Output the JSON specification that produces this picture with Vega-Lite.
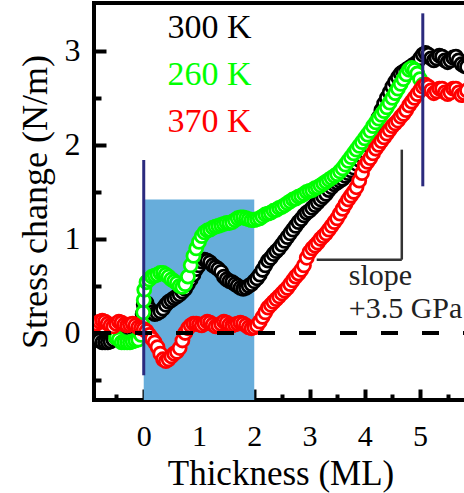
{
"$schema": "https://vega.github.io/schema/vega-lite/v6.json",
"autosize": {"type": "none"},
"width": 373, "height": 397,
"padding": {"left": 94, "top": 3, "right": 0, "bottom": 93},
"background": "white",
"config": {"view": {"stroke": "black", "strokeWidth": 4}, "font": "Liberation Serif"},
"datasets": {
"pts": [
{"s":"b","x":-0.9,"y":-0.04},{"s":"b","x":-0.85,"y":-0.06},{"s":"b","x":-0.8,"y":-0.08},{"s":"b","x":-0.75,"y":-0.1},{"s":"b","x":-0.7,"y":-0.1},{"s":"b","x":-0.65,"y":-0.1},{"s":"b","x":-0.6,"y":-0.09},{"s":"b","x":-0.55,"y":-0.07},{"s":"b","x":-0.5,"y":-0.05},{"s":"b","x":-0.45,"y":-0.04},{"s":"b","x":-0.4,"y":-0.03},{"s":"b","x":-0.35,"y":-0.02},{"s":"b","x":-0.3,"y":0},{"s":"b","x":-0.25,"y":0},{"s":"b","x":-0.2,"y":0.01},{"s":"b","x":-0.15,"y":0.02},{"s":"b","x":-0.1,"y":0.03},{"s":"b","x":-0.05,"y":0.1},{"s":"b","x":-0.02,"y":0.2},{"s":"b","x":0,"y":0.3},{"s":"b","x":0.05,"y":0.32},{"s":"b","x":0.1,"y":0.26},{"s":"b","x":0.15,"y":0.22},{"s":"b","x":0.2,"y":0.2},{"s":"b","x":0.25,"y":0.21},{"s":"b","x":0.3,"y":0.23},{"s":"b","x":0.35,"y":0.26},{"s":"b","x":0.4,"y":0.3},{"s":"b","x":0.45,"y":0.33},{"s":"b","x":0.5,"y":0.35},{"s":"b","x":0.55,"y":0.37},{"s":"b","x":0.6,"y":0.39},{"s":"b","x":0.65,"y":0.41},{"s":"b","x":0.7,"y":0.44},{"s":"b","x":0.75,"y":0.47},{"s":"b","x":0.8,"y":0.52},{"s":"b","x":0.85,"y":0.57},{"s":"b","x":0.9,"y":0.62},{"s":"b","x":0.95,"y":0.68},{"s":"b","x":1,"y":0.72},{"s":"b","x":1.05,"y":0.76},{"s":"b","x":1.1,"y":0.78},{"s":"b","x":1.15,"y":0.77},{"s":"b","x":1.2,"y":0.75},{"s":"b","x":1.25,"y":0.72},{"s":"b","x":1.3,"y":0.7},{"s":"b","x":1.35,"y":0.68},{"s":"b","x":1.4,"y":0.65},{"s":"b","x":1.45,"y":0.6},{"s":"b","x":1.5,"y":0.57},{"s":"b","x":1.55,"y":0.55},{"s":"b","x":1.6,"y":0.54},{"s":"b","x":1.65,"y":0.52},{"s":"b","x":1.7,"y":0.5},{"s":"b","x":1.75,"y":0.48},{"s":"b","x":1.8,"y":0.47},{"s":"b","x":1.85,"y":0.48},{"s":"b","x":1.9,"y":0.5},{"s":"b","x":1.95,"y":0.52},{"s":"b","x":2,"y":0.55},{"s":"b","x":2.05,"y":0.58},{"s":"b","x":2.1,"y":0.62},{"s":"b","x":2.15,"y":0.67},{"s":"b","x":2.2,"y":0.72},{"s":"b","x":2.25,"y":0.77},{"s":"b","x":2.3,"y":0.8},{"s":"b","x":2.35,"y":0.84},{"s":"b","x":2.4,"y":0.87},{"s":"b","x":2.45,"y":0.9},{"s":"b","x":2.5,"y":0.94},{"s":"b","x":2.55,"y":0.98},{"s":"b","x":2.6,"y":1.02},{"s":"b","x":2.65,"y":1.06},{"s":"b","x":2.7,"y":1.1},{"s":"b","x":2.75,"y":1.14},{"s":"b","x":2.8,"y":1.18},{"s":"b","x":2.85,"y":1.21},{"s":"b","x":2.9,"y":1.25},{"s":"b","x":2.95,"y":1.28},{"s":"b","x":3,"y":1.3},{"s":"b","x":3.05,"y":1.33},{"s":"b","x":3.1,"y":1.36},{"s":"b","x":3.15,"y":1.39},{"s":"b","x":3.2,"y":1.42},{"s":"b","x":3.25,"y":1.45},{"s":"b","x":3.3,"y":1.48},{"s":"b","x":3.35,"y":1.52},{"s":"b","x":3.4,"y":1.55},{"s":"b","x":3.45,"y":1.58},{"s":"b","x":3.5,"y":1.6},{"s":"b","x":3.55,"y":1.62},{"s":"b","x":3.6,"y":1.64},{"s":"b","x":3.65,"y":1.67},{"s":"b","x":3.7,"y":1.7},{"s":"b","x":3.75,"y":1.73},{"s":"b","x":3.8,"y":1.76},{"s":"b","x":3.85,"y":1.8},{"s":"b","x":3.9,"y":1.84},{"s":"b","x":3.95,"y":1.88},{"s":"b","x":4,"y":1.93},{"s":"b","x":4.05,"y":2},{"s":"b","x":4.1,"y":2.07},{"s":"b","x":4.15,"y":2.14},{"s":"b","x":4.2,"y":2.21},{"s":"b","x":4.25,"y":2.29},{"s":"b","x":4.3,"y":2.37},{"s":"b","x":4.35,"y":2.44},{"s":"b","x":4.4,"y":2.5},{"s":"b","x":4.45,"y":2.56},{"s":"b","x":4.5,"y":2.62},{"s":"b","x":4.55,"y":2.67},{"s":"b","x":4.6,"y":2.72},{"s":"b","x":4.65,"y":2.76},{"s":"b","x":4.7,"y":2.78},{"s":"b","x":4.75,"y":2.8},{"s":"b","x":4.8,"y":2.82},{"s":"b","x":4.85,"y":2.84},{"s":"b","x":4.9,"y":2.86},{"s":"b","x":4.95,"y":2.88},{"s":"b","x":5,"y":2.92},{"s":"b","x":5.05,"y":2.96},{"s":"b","x":5.1,"y":2.98},{"s":"b","x":5.15,"y":2.96},{"s":"b","x":5.2,"y":2.92},{"s":"b","x":5.25,"y":2.9},{"s":"b","x":5.3,"y":2.92},{"s":"b","x":5.35,"y":2.95},{"s":"b","x":5.4,"y":2.94},{"s":"b","x":5.45,"y":2.9},{"s":"b","x":5.5,"y":2.88},{"s":"b","x":5.55,"y":2.9},{"s":"b","x":5.6,"y":2.93},{"s":"b","x":5.65,"y":2.94},{"s":"b","x":5.7,"y":2.9},{"s":"b","x":5.75,"y":2.86},{"s":"b","x":5.8,"y":2.84},{"s":"b","x":5.85,"y":2.83},
{"s":"g","x":-0.5,"y":-0.05},{"s":"g","x":-0.45,"y":-0.07},{"s":"g","x":-0.4,"y":-0.1},{"s":"g","x":-0.35,"y":-0.1},{"s":"g","x":-0.3,"y":-0.1},{"s":"g","x":-0.25,"y":-0.1},{"s":"g","x":-0.2,"y":-0.09},{"s":"g","x":-0.15,"y":-0.08},{"s":"g","x":-0.1,"y":-0.07},{"s":"g","x":-0.05,"y":-0.02},{"s":"g","x":-0.03,"y":0.1},{"s":"g","x":-0.01,"y":0.22},{"s":"g","x":0,"y":0.35},{"s":"g","x":0.01,"y":0.46},{"s":"g","x":0.05,"y":0.54},{"s":"g","x":0.1,"y":0.57},{"s":"g","x":0.15,"y":0.6},{"s":"g","x":0.2,"y":0.61},{"s":"g","x":0.25,"y":0.62},{"s":"g","x":0.3,"y":0.64},{"s":"g","x":0.35,"y":0.64},{"s":"g","x":0.4,"y":0.62},{"s":"g","x":0.45,"y":0.6},{"s":"g","x":0.5,"y":0.57},{"s":"g","x":0.55,"y":0.55},{"s":"g","x":0.6,"y":0.53},{"s":"g","x":0.65,"y":0.5},{"s":"g","x":0.7,"y":0.49},{"s":"g","x":0.75,"y":0.52},{"s":"g","x":0.8,"y":0.6},{"s":"g","x":0.85,"y":0.72},{"s":"g","x":0.9,"y":0.82},{"s":"g","x":0.95,"y":0.9},{"s":"g","x":1,"y":0.97},{"s":"g","x":1.05,"y":1.03},{"s":"g","x":1.1,"y":1.07},{"s":"g","x":1.15,"y":1.09},{"s":"g","x":1.2,"y":1.1},{"s":"g","x":1.25,"y":1.12},{"s":"g","x":1.3,"y":1.13},{"s":"g","x":1.35,"y":1.14},{"s":"g","x":1.4,"y":1.15},{"s":"g","x":1.45,"y":1.16},{"s":"g","x":1.5,"y":1.17},{"s":"g","x":1.55,"y":1.17},{"s":"g","x":1.6,"y":1.18},{"s":"g","x":1.65,"y":1.2},{"s":"g","x":1.7,"y":1.22},{"s":"g","x":1.75,"y":1.23},{"s":"g","x":1.8,"y":1.23},{"s":"g","x":1.85,"y":1.22},{"s":"g","x":1.9,"y":1.21},{"s":"g","x":1.95,"y":1.2},{"s":"g","x":2,"y":1.2},{"s":"g","x":2.05,"y":1.21},{"s":"g","x":2.1,"y":1.22},{"s":"g","x":2.15,"y":1.24},{"s":"g","x":2.2,"y":1.26},{"s":"g","x":2.25,"y":1.27},{"s":"g","x":2.3,"y":1.28},{"s":"g","x":2.35,"y":1.3},{"s":"g","x":2.4,"y":1.31},{"s":"g","x":2.45,"y":1.33},{"s":"g","x":2.5,"y":1.34},{"s":"g","x":2.55,"y":1.36},{"s":"g","x":2.6,"y":1.38},{"s":"g","x":2.65,"y":1.4},{"s":"g","x":2.7,"y":1.42},{"s":"g","x":2.75,"y":1.43},{"s":"g","x":2.8,"y":1.45},{"s":"g","x":2.85,"y":1.46},{"s":"g","x":2.9,"y":1.48},{"s":"g","x":2.95,"y":1.5},{"s":"g","x":3,"y":1.51},{"s":"g","x":3.05,"y":1.52},{"s":"g","x":3.1,"y":1.54},{"s":"g","x":3.15,"y":1.55},{"s":"g","x":3.2,"y":1.57},{"s":"g","x":3.25,"y":1.59},{"s":"g","x":3.3,"y":1.61},{"s":"g","x":3.35,"y":1.63},{"s":"g","x":3.4,"y":1.65},{"s":"g","x":3.45,"y":1.67},{"s":"g","x":3.5,"y":1.69},{"s":"g","x":3.55,"y":1.72},{"s":"g","x":3.6,"y":1.75},{"s":"g","x":3.65,"y":1.79},{"s":"g","x":3.7,"y":1.83},{"s":"g","x":3.75,"y":1.87},{"s":"g","x":3.8,"y":1.91},{"s":"g","x":3.85,"y":1.95},{"s":"g","x":3.9,"y":1.99},{"s":"g","x":3.95,"y":2.03},{"s":"g","x":4,"y":2.07},{"s":"g","x":4.05,"y":2.11},{"s":"g","x":4.1,"y":2.15},{"s":"g","x":4.15,"y":2.2},{"s":"g","x":4.2,"y":2.24},{"s":"g","x":4.25,"y":2.28},{"s":"g","x":4.3,"y":2.32},{"s":"g","x":4.35,"y":2.36},{"s":"g","x":4.4,"y":2.4},{"s":"g","x":4.45,"y":2.45},{"s":"g","x":4.5,"y":2.5},{"s":"g","x":4.55,"y":2.55},{"s":"g","x":4.6,"y":2.6},{"s":"g","x":4.65,"y":2.65},{"s":"g","x":4.7,"y":2.7},{"s":"g","x":4.75,"y":2.75},{"s":"g","x":4.8,"y":2.8},{"s":"g","x":4.85,"y":2.82},{"s":"g","x":4.9,"y":2.8},{"s":"g","x":4.95,"y":2.76},{"s":"g","x":5,"y":2.7},{"s":"g","x":5.05,"y":2.64},
{"s":"r","x":-0.9,"y":0.08},{"s":"r","x":-0.85,"y":0.1},{"s":"r","x":-0.8,"y":0.12},{"s":"r","x":-0.75,"y":0.13},{"s":"r","x":-0.7,"y":0.12},{"s":"r","x":-0.65,"y":0.1},{"s":"r","x":-0.6,"y":0.08},{"s":"r","x":-0.55,"y":0.07},{"s":"r","x":-0.5,"y":0.1},{"s":"r","x":-0.45,"y":0.12},{"s":"r","x":-0.4,"y":0.11},{"s":"r","x":-0.35,"y":0.09},{"s":"r","x":-0.3,"y":0.08},{"s":"r","x":-0.25,"y":0.09},{"s":"r","x":-0.2,"y":0.1},{"s":"r","x":-0.15,"y":0.08},{"s":"r","x":-0.1,"y":0.06},{"s":"r","x":-0.05,"y":0.05},{"s":"r","x":0,"y":0.04},{"s":"r","x":0.05,"y":0.02},{"s":"r","x":0.1,"y":-0.02},{"s":"r","x":0.15,"y":-0.06},{"s":"r","x":0.2,"y":-0.1},{"s":"r","x":0.25,"y":-0.15},{"s":"r","x":0.3,"y":-0.22},{"s":"r","x":0.35,"y":-0.28},{"s":"r","x":0.4,"y":-0.3},{"s":"r","x":0.45,"y":-0.28},{"s":"r","x":0.5,"y":-0.25},{"s":"r","x":0.55,"y":-0.22},{"s":"r","x":0.6,"y":-0.2},{"s":"r","x":0.65,"y":-0.16},{"s":"r","x":0.7,"y":-0.08},{"s":"r","x":0.75,"y":0},{"s":"r","x":0.8,"y":0.05},{"s":"r","x":0.85,"y":0.08},{"s":"r","x":0.9,"y":0.1},{"s":"r","x":0.95,"y":0.1},{"s":"r","x":1,"y":0.09},{"s":"r","x":1.05,"y":0.08},{"s":"r","x":1.1,"y":0.1},{"s":"r","x":1.15,"y":0.12},{"s":"r","x":1.2,"y":0.11},{"s":"r","x":1.25,"y":0.09},{"s":"r","x":1.3,"y":0.07},{"s":"r","x":1.35,"y":0.08},{"s":"r","x":1.4,"y":0.1},{"s":"r","x":1.45,"y":0.12},{"s":"r","x":1.5,"y":0.11},{"s":"r","x":1.55,"y":0.09},{"s":"r","x":1.6,"y":0.08},{"s":"r","x":1.65,"y":0.09},{"s":"r","x":1.7,"y":0.1},{"s":"r","x":1.75,"y":0.11},{"s":"r","x":1.8,"y":0.1},{"s":"r","x":1.85,"y":0.08},{"s":"r","x":1.9,"y":0.06},{"s":"r","x":1.95,"y":0.05},{"s":"r","x":2,"y":0.06},{"s":"r","x":2.05,"y":0.08},{"s":"r","x":2.1,"y":0.12},{"s":"r","x":2.15,"y":0.17},{"s":"r","x":2.2,"y":0.22},{"s":"r","x":2.25,"y":0.27},{"s":"r","x":2.3,"y":0.3},{"s":"r","x":2.35,"y":0.33},{"s":"r","x":2.4,"y":0.36},{"s":"r","x":2.45,"y":0.39},{"s":"r","x":2.5,"y":0.42},{"s":"r","x":2.55,"y":0.45},{"s":"r","x":2.6,"y":0.48},{"s":"r","x":2.65,"y":0.52},{"s":"r","x":2.7,"y":0.56},{"s":"r","x":2.75,"y":0.6},{"s":"r","x":2.8,"y":0.63},{"s":"r","x":2.85,"y":0.67},{"s":"r","x":2.9,"y":0.72},{"s":"r","x":2.95,"y":0.8},{"s":"r","x":3,"y":0.86},{"s":"r","x":3.05,"y":0.9},{"s":"r","x":3.1,"y":0.93},{"s":"r","x":3.15,"y":0.96},{"s":"r","x":3.2,"y":1},{"s":"r","x":3.25,"y":1.03},{"s":"r","x":3.3,"y":1.06},{"s":"r","x":3.35,"y":1.1},{"s":"r","x":3.4,"y":1.14},{"s":"r","x":3.45,"y":1.18},{"s":"r","x":3.5,"y":1.22},{"s":"r","x":3.55,"y":1.27},{"s":"r","x":3.6,"y":1.32},{"s":"r","x":3.65,"y":1.37},{"s":"r","x":3.7,"y":1.42},{"s":"r","x":3.75,"y":1.46},{"s":"r","x":3.8,"y":1.5},{"s":"r","x":3.85,"y":1.55},{"s":"r","x":3.9,"y":1.62},{"s":"r","x":3.95,"y":1.7},{"s":"r","x":4,"y":1.78},{"s":"r","x":4.05,"y":1.82},{"s":"r","x":4.1,"y":1.86},{"s":"r","x":4.15,"y":1.91},{"s":"r","x":4.2,"y":1.96},{"s":"r","x":4.25,"y":2},{"s":"r","x":4.3,"y":2.04},{"s":"r","x":4.35,"y":2.08},{"s":"r","x":4.4,"y":2.12},{"s":"r","x":4.45,"y":2.16},{"s":"r","x":4.5,"y":2.2},{"s":"r","x":4.55,"y":2.23},{"s":"r","x":4.6,"y":2.26},{"s":"r","x":4.65,"y":2.3},{"s":"r","x":4.7,"y":2.33},{"s":"r","x":4.75,"y":2.37},{"s":"r","x":4.8,"y":2.42},{"s":"r","x":4.85,"y":2.46},{"s":"r","x":4.9,"y":2.5},{"s":"r","x":4.95,"y":2.54},{"s":"r","x":5,"y":2.58},{"s":"r","x":5.05,"y":2.62},{"s":"r","x":5.1,"y":2.64},{"s":"r","x":5.15,"y":2.62},{"s":"r","x":5.2,"y":2.58},{"s":"r","x":5.25,"y":2.55},{"s":"r","x":5.3,"y":2.57},{"s":"r","x":5.35,"y":2.6},{"s":"r","x":5.4,"y":2.6},{"s":"r","x":5.45,"y":2.56},{"s":"r","x":5.5,"y":2.54},{"s":"r","x":5.55,"y":2.56},{"s":"r","x":5.6,"y":2.6},{"s":"r","x":5.65,"y":2.6},{"s":"r","x":5.7,"y":2.56},{"s":"r","x":5.75,"y":2.53},{"s":"r","x":5.8,"y":2.55},{"s":"r","x":5.85,"y":2.58}
]
},
"encoding": {
"x": {"field": "x", "type": "quantitative",
 "scale": {"domain": [-0.9, 5.85], "nice": false, "zero": false},
 "axis": {"title": "Thickness (ML)", "values": [-0.5,0,0.5,1,1.5,2,2.5,3,3.5,4,4.5,5,5.5],
  "labelExpr": "datum.value % 1 === 0 ? format(datum.value, 'd') : ''",
  "domain": false, "grid": false, "tickColor": "black", "tickWidth": 4,
  "tickSize": {"condition": {"test": "datum.value % 1 === 0", "value": -11}, "value": -6},
  "labelFont": "Liberation Serif", "labelFontSize": 30, "labelColor": "black", "labelPadding": 32,
  "labelFlush": false, "labelOverlap": false,
  "titleFont": "Liberation Serif", "titleFontSize": 35, "titleFontWeight": "normal", "titleColor": "black", "titlePadding": 0}},
"y": {"field": "y", "type": "quantitative",
 "scale": {"domain": [-0.713, 3.51], "nice": false, "zero": false},
 "axis": {"title": "Stress change (N/m)", "values": [-0.5,0,0.5,1,1.5,2,2.5,3],
  "labelExpr": "datum.value % 1 === 0 ? format(datum.value, 'd') : ''",
  "domain": false, "grid": false, "tickColor": "black", "tickWidth": 4,
  "tickSize": {"condition": {"test": "datum.value % 1 === 0", "value": -12}, "value": -7},
  "labelFont": "Liberation Serif", "labelFontSize": 32, "labelColor": "black", "labelPadding": 26,
  "labelFlush": false, "labelOverlap": false,
  "titleFont": "Liberation Serif", "titleFontSize": 36, "titleFontWeight": "normal", "titleColor": "black", "titlePadding": 10}}
},
"layer": [
{"data": {"values": [{"x": 0, "x2": 2, "y": -0.713, "y2": 1.42}]},
 "mark": {"type": "rect", "color": "#67addb"},
 "encoding": {"x2": {"field": "x2"}, "y2": {"field": "y2"}}},
{"data": {"values": [{"x": 4.67, "y": 0.78, "y2": 1.95}]},
 "mark": {"type": "rule", "color": "#333333", "strokeWidth": 2.5},
 "encoding": {"y2": {"field": "y2"}}},
{"data": {"values": [{"x": 3.13, "x2": 4.67, "y": 0.78}]},
 "mark": {"type": "rule", "color": "#333333", "strokeWidth": 2.5},
 "encoding": {"x2": {"field": "x2"}}},
{"data": {"name": "pts"},
 "mark": {"type": "point", "shape": "circle", "filled": false, "fill": "white", "fillOpacity": 1, "strokeWidth": 2.8, "size": 170, "opacity": 1, "clip": true},
 "encoding": {"color": {"field": "s", "type": "nominal", "scale": {"domain": ["b","g","r"], "range": ["#000000","#00ff00","#ff0000"]}, "legend": null}}},
{"data": {"values": [{"x": -0.9, "x2": 5.85, "y": 0}]},
 "mark": {"type": "rule", "color": "black", "strokeWidth": 4, "strokeDash": [17, 24]},
 "encoding": {"x2": {"field": "x2"}}},
{"data": {"values": [{"x": 0, "y": -0.45, "y2": 1.84}, {"x": 5.05, "y": 1.56, "y2": 3.4}]},
 "mark": {"type": "rule", "color": "#2b2a7e", "strokeWidth": 3},
 "encoding": {"y2": {"field": "y2"}}},
{"data": {"values": [{"s": "b", "x": 0.43, "y": 3.24, "t": "300 K"}, {"s": "g", "x": 0.43, "y": 2.74, "t": "260 K"}, {"s": "r", "x": 0.43, "y": 2.24, "t": "370 K"}]},
 "mark": {"type": "text", "align": "left", "baseline": "middle", "fontSize": 34, "font": "Liberation Serif"},
 "encoding": {"text": {"field": "t"}, "color": {"field": "s", "type": "nominal", "scale": {"domain": ["b","g","r"], "range": ["#000000","#00ff00","#ff0000"]}, "legend": null}}},
{"data": {"values": [{"x": 3.71, "y": 0.51, "t": "slope"}, {"x": 3.71, "y": 0.16, "t": "+3.5 GPa"}]},
 "mark": {"type": "text", "align": "left", "baseline": "alphabetic", "fontSize": 30, "font": "Liberation Serif", "color": "#222222"},
 "encoding": {"text": {"field": "t"}}}
]
}
